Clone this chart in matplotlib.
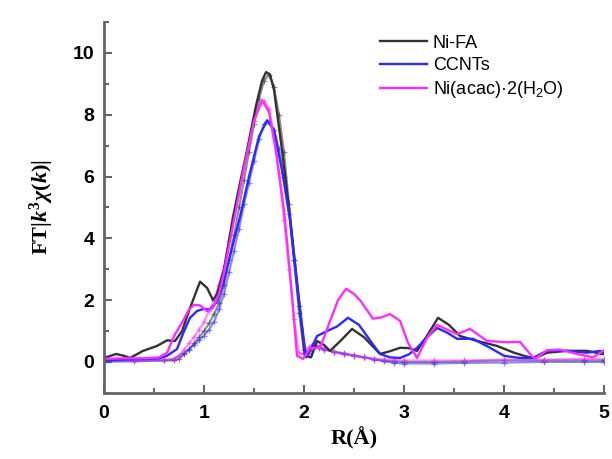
import matplotlib
matplotlib.use("Agg")
import matplotlib.pyplot as plt
from matplotlib.ticker import MultipleLocator

# experimental curves (R in Angstrom, FT magnitude)
r_nifa = [0, 0.03, 0.12, 0.2, 0.26, 0.39, 0.53, 0.63, 0.71, 0.78, 0.86, 0.96, 1.03, 1.09, 1.13,
          1.2, 1.29, 1.36, 1.43, 1.52, 1.58, 1.62, 1.66, 1.7, 1.78, 1.86, 1.95, 2.01, 2.07,
          2.13, 2.2, 2.26, 2.37, 2.48, 2.6, 2.76, 2.86, 2.96, 3.05, 3.13, 3.24, 3.34, 3.45,
          3.56, 3.73, 3.93, 4.1, 4.2, 4.29, 4.36, 4.43, 4.63, 4.83, 5.0]
y_nifa = [0.18, 0.16, 0.26, 0.2, 0.13, 0.36, 0.52, 0.7, 0.68, 1.0, 1.75, 2.6, 2.4, 2.0, 2.2,
          3.0, 4.7, 5.8, 6.85, 8.3, 9.1, 9.38, 9.3, 8.8, 6.85, 4.7, 2.0, 0.2, 0.15,
          0.68, 0.55, 0.36, 0.7, 1.07, 0.8, 0.26, 0.35, 0.46, 0.45, 0.36, 0.9, 1.43, 1.2,
          0.84, 0.68, 0.52, 0.3, 0.2, 0.13, 0.2, 0.3, 0.36, 0.36, 0.25]

r_ccnt = [0, 0.2, 0.4, 0.55, 0.63, 0.73, 0.8, 0.86, 0.93, 1.0, 1.06, 1.13, 1.19, 1.28, 1.36,
          1.45, 1.55, 1.63, 1.7, 1.78, 1.86, 1.94, 2.02, 2.08, 2.13, 2.23, 2.33, 2.44, 2.55,
          2.66, 2.76, 2.86, 2.96, 3.05, 3.13, 3.23, 3.33, 3.43, 3.53, 3.69, 3.86, 4.0, 4.16,
          4.29, 4.36, 4.43, 4.63, 4.83, 4.96, 5.0]
y_ccnt = [0.05, 0.08, 0.1, 0.12, 0.2, 0.42, 1.0, 1.43, 1.65, 1.72, 1.7, 1.95, 2.5, 3.7, 4.7,
          6.0, 7.3, 7.82, 7.5, 6.2, 4.6, 2.2, 0.15, 0.5, 0.84, 1.0, 1.15, 1.43, 1.2,
          0.7, 0.26, 0.15, 0.13, 0.25, 0.46, 0.8, 1.1, 0.95, 0.75, 0.75, 0.46, 0.2, 0.13,
          0.13, 0.25, 0.36, 0.36, 0.3, 0.36, 0.3]

r_acac = [0, 0.2, 0.4, 0.55, 0.63, 0.71, 0.78, 0.85, 0.9, 0.96, 1.03, 1.09, 1.15, 1.2, 1.3,
          1.4, 1.5, 1.58, 1.65, 1.72, 1.8, 1.87, 1.93, 1.99, 2.06, 2.16, 2.26, 2.34, 2.42,
          2.5, 2.56, 2.69, 2.78, 2.86, 2.96, 3.04, 3.13, 3.23, 3.33, 3.43, 3.53, 3.66, 3.83,
          4.03, 4.16, 4.26, 4.31, 4.43, 4.56, 4.73, 4.89, 5.0]
y_acac = [0.1, 0.12, 0.12, 0.15, 0.3, 0.9, 1.27, 1.7, 1.85, 1.83, 1.65, 1.75, 2.2, 2.9, 4.6,
          6.3, 7.8, 8.47, 8.1, 6.8, 4.9, 2.5, 0.2, 0.1, 0.45, 0.45, 1.33, 2.0, 2.37,
          2.2, 2.0, 1.4, 1.45, 1.55, 1.33, 0.62, 0.13, 0.78, 1.2, 1.05, 0.9, 1.07, 0.68,
          0.64, 0.65, 0.26, 0.1, 0.38, 0.4, 0.26, 0.15, 0.38]

# fitted curves
r_fit = [0, 0.3, 0.6, 0.7, 0.75, 0.8, 0.85, 0.9, 0.95, 1.0, 1.05, 1.1, 1.15, 1.2, 1.25,
         1.3, 1.35, 1.4, 1.45, 1.5, 1.55, 1.6, 1.65, 1.7, 1.75, 1.8, 1.85, 1.9, 1.95,
         2.0, 2.05, 2.1, 2.15, 2.2, 2.3, 2.4, 2.5, 2.6, 2.7, 2.8, 2.9, 3.0, 3.3, 3.6,
         4.0, 4.4, 4.8, 5.0]
fit_nifa = [0.05, 0.05, 0.05, 0.05, 0.1, 0.25, 0.4, 0.6, 0.8, 1.0, 1.25, 1.55, 1.9, 2.5, 3.3,
            4.1, 5.0, 5.9, 6.8, 7.7, 8.5, 9.1, 9.3, 8.9, 8.0, 6.8, 5.1, 3.3, 1.6,
            0.3, 0.35, 0.55, 0.5, 0.42, 0.33, 0.25, 0.2, 0.15, 0.1, 0.05, 0.02, 0.0, 0.0, 0.02,
            0.05, 0.05, 0.05, 0.05]
fit_ccnt = [0.0, 0.02, 0.05, 0.1, 0.2, 0.3, 0.42, 0.55, 0.7, 0.85, 1.05, 1.3, 1.7, 2.2, 2.9,
            3.6, 4.3, 5.1, 5.8, 6.5, 7.2, 7.7, 7.8, 7.5, 6.9, 6.0, 4.8, 3.3, 1.8,
            0.4, 0.3, 0.5, 0.45, 0.4, 0.33, 0.28, 0.22, 0.15, 0.08, 0.02, -0.03, -0.05, -0.05, -0.03,
            -0.02, 0.0, 0.0, 0.0]
fit_acac = [0.05, 0.05, 0.08, 0.1, 0.2, 0.4, 0.6, 0.8, 1.05, 1.3, 1.65, 2.0, 2.5, 3.1, 3.9,
            4.7, 5.5, 6.3, 7.1, 7.8, 8.3, 8.45, 8.2, 7.3, 6.1, 4.6, 3.0, 1.4, 0.3,
            0.25, 0.5, 0.6, 0.5, 0.42, 0.33, 0.25, 0.2, 0.15, 0.1, 0.08, 0.06, 0.05, 0.05, 0.05,
            0.08, 0.08, 0.1, 0.1]

labels = ["Ni-FA", "CCNTs", r"Ni(acac)·2(H$\mathsf{_2}$O)"]
colors = ["#333333", "#2a2aff", "#ff2bff"]

plt.rcParams["font.family"] = ["Liberation Sans", "DejaVu Sans"]
plt.rcParams["mathtext.fontset"] = "custom"
plt.rcParams["mathtext.rm"] = "Liberation Serif:bold"
plt.rcParams["mathtext.it"] = "Liberation Serif:bold:italic"
plt.rcParams["mathtext.bf"] = "Liberation Serif:bold"
plt.rcParams["mathtext.sf"] = "Liberation Sans"

fig = plt.figure(figsize=(6.12, 4.59), dpi=100)
ax = fig.add_axes([0.170, 0.144, 0.817, 0.808])

fits = [(r_fit, fit_nifa), (r_fit, fit_ccnt), (r_fit, fit_acac)]
exps = [(r_nifa, y_nifa), (r_ccnt, y_ccnt), (r_acac, y_acac)]

for (rf, yf), c in zip(fits, colors):
    ax.plot(rf, yf, color=c, lw=1.5, alpha=0.55, marker="+", ms=4, mew=0.9)

for (re, ye), c, lab in zip(exps, colors, labels):
    ax.plot(re, ye, color=c, lw=1.7, label=lab)

ax.set_xlim(0, 5)
ax.set_ylim(-1, 11)
ax.xaxis.set_major_locator(MultipleLocator(1))
ax.xaxis.set_minor_locator(MultipleLocator(0.5))
ax.yaxis.set_major_locator(MultipleLocator(2))
ax.yaxis.set_minor_locator(MultipleLocator(1))

for side in ["top", "right"]:
    ax.spines[side].set_visible(False)
for side in ["left", "bottom"]:
    ax.spines[side].set_color("#666666")
    ax.spines[side].set_linewidth(2)

ax.tick_params(which="both", direction="in", color="#666666", width=1.5)
ax.tick_params(which="major", length=6, labelsize=14)
ax.tick_params(axis="x", which="major", pad=9)
ax.tick_params(axis="y", which="major", pad=7)
ax.tick_params(which="minor", length=3.5)
for t in ax.get_xticklabels() + ax.get_yticklabels():
    t.set_fontweight("bold")

ax.set_xlabel("R(Å)", fontsize=16, fontweight="bold", family="Liberation Serif", labelpad=3)
ax.set_ylabel(r"FT|$k^3\chi(k)$|", fontsize=16, fontweight="bold",
              family="Liberation Serif", labelpad=12)

ax.legend(loc="upper left", bbox_to_anchor=(0.52, 1.01), frameon=False, fontsize=13,
          handlelength=2.6, handletextpad=0.3, labelspacing=0.3)

fig.savefig("out.png", dpi=100)
